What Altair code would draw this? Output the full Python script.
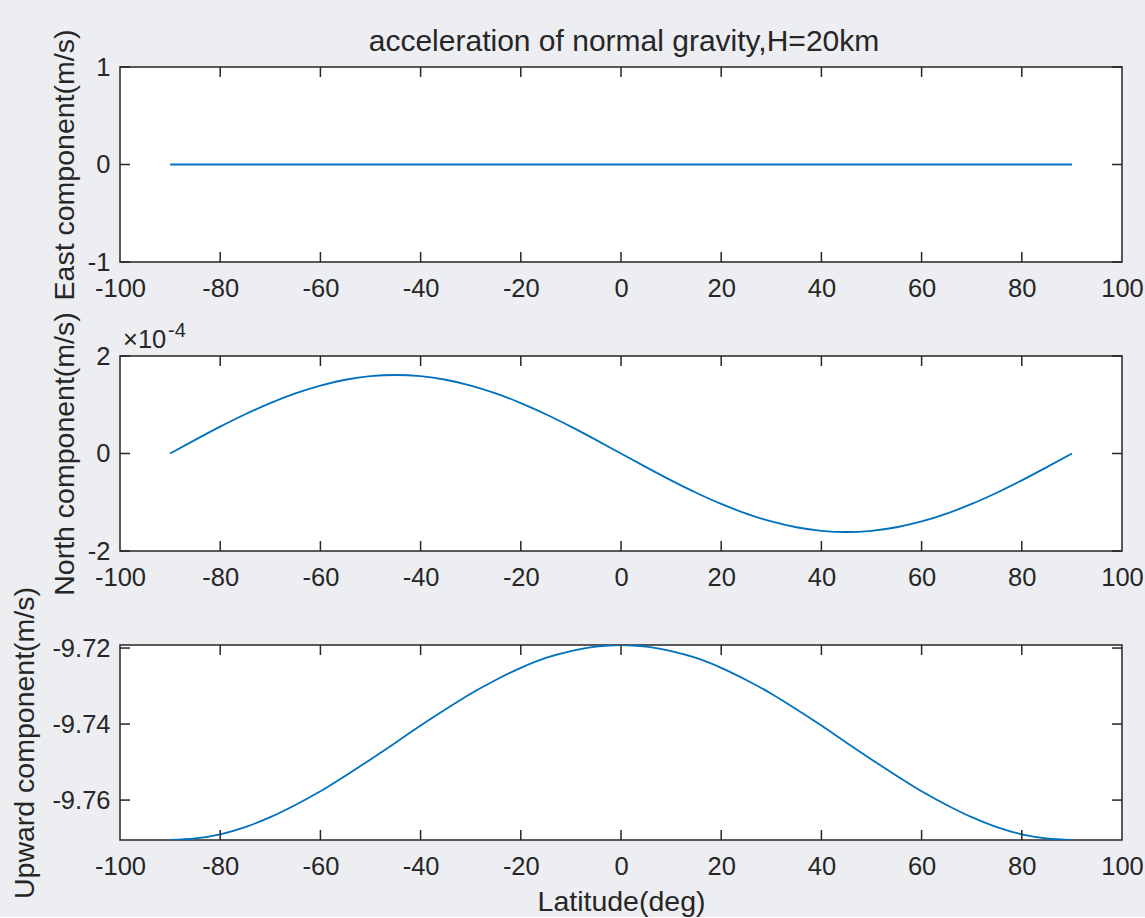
import altair as alt
import pandas as pd

# ---- data ----
lat = [-90, -85, -80, -75, -70, -65, -60, -55, -50, -45, -40, -35, -30, -25, -20, -15, -10, -5,
       0, 5, 10, 15, 20, 25, 30, 35, 40, 45, 50, 55, 60, 65, 70, 75, 80, 85, 90]

east = [0.0, 0.0, 0.0, 0.0, 0.0, 0.0, 0.0, 0.0, 0.0, 0.0, 0.0, 0.0, 0.0, 0.0, 0.0, 0.0, 0.0, 0.0,
        0.0, 0.0, 0.0, 0.0, 0.0, 0.0, 0.0, 0.0, 0.0, 0.0, 0.0, 0.0, 0.0, 0.0, 0.0, 0.0, 0.0, 0.0, 0.0]

north = [0.0, 0.2796e-4, 0.5507e-4, 0.805e-4, 1.0349e-4, 1.2333e-4, 1.3943e-4, 1.5129e-4, 1.5855e-4,
         1.61e-4, 1.5855e-4, 1.5129e-4, 1.3943e-4, 1.2333e-4, 1.0349e-4, 0.805e-4, 0.5507e-4, 0.2796e-4,
         0.0, -0.2796e-4, -0.5507e-4, -0.805e-4, -1.0349e-4, -1.2333e-4, -1.3943e-4, -1.5129e-4,
         -1.5855e-4, -1.61e-4, -1.5855e-4, -1.5129e-4, -1.3943e-4, -1.2333e-4, -1.0349e-4, -0.805e-4,
         -0.5507e-4, -0.2796e-4, 0.0]

up = [-9.7705, -9.7701, -9.7690, -9.7671, -9.7645, -9.7613, -9.7577, -9.7536, -9.7493, -9.7449,
      -9.7404, -9.7361, -9.7320, -9.7284, -9.7252, -9.7226, -9.7208, -9.7196, -9.7192,
      -9.7196, -9.7208, -9.7226, -9.7252, -9.7284, -9.7320, -9.7361, -9.7404, -9.7449, -9.7493,
      -9.7536, -9.7577, -9.7613, -9.7645, -9.7671, -9.7690, -9.7701, -9.7705]

x_ticks = [-100, -80, -60, -40, -20, 0, 20, 40, 60, 80, 100]
east_ticks = [-1, 0, 1]
north_ticks = [-2e-4, 0, 2e-4]
up_ticks = [-9.76, -9.74, -9.72]

east_domain = [-1, 1]
north_domain = [-2e-4, 2e-4]
up_domain = [-9.7705, -9.7192]

title_text = "acceleration of normal gravity,H=20km"
exp_base = "×10"
exp_power = "-4"

FONT = "Liberation Sans"
INK = "#262626"
BLUE = "#0072BD"
W, H = 1002, 195
TICK = 10


def panel(values, domain, yticks, ytitle, label_expr, title_pad, xtitle=None, title=None, exponent=False):
    xscale = alt.Scale(domain=[-100, 100], nice=False, zero=False)
    yscale = alt.Scale(domain=domain, nice=False, zero=False)
    df = pd.DataFrame({"lat": lat, "v": values})

    xaxis_kwargs = dict(values=x_ticks, labelExpr="datum.value + ''", labelPadding=14)
    if xtitle:
        xaxis_kwargs["title"] = xtitle
        xaxis_kwargs["titlePadding"] = 8
    else:
        xaxis_kwargs["title"] = None
    xaxis = alt.Axis(**xaxis_kwargs)
    yaxis = alt.Axis(values=yticks, labelExpr=label_expr, title=ytitle,
                     titlePadding=title_pad, labelPadding=10)

    def X(f):
        return alt.X(f, scale=xscale, axis=xaxis)

    def Y(f):
        return alt.Y(f, scale=yscale, axis=yaxis)

    line = alt.Chart(df).mark_line(color=BLUE, strokeWidth=1.8, clip=True,
                                   interpolate="monotone").encode(x=X("lat:Q"), y=Y("v:Q"))

    xt = pd.DataFrame({"t": x_ticks[1:-1]})
    yt = pd.DataFrame({"t": yticks})
    tick_style = dict(color=INK, strokeWidth=1.5)
    xt_top = alt.Chart(xt).mark_rule(**tick_style).encode(
        x=X("t:Q"), y=alt.value(0), y2=alt.value(TICK))
    xt_bot = alt.Chart(xt).mark_rule(**tick_style).encode(
        x=X("t:Q"), y=alt.value(H), y2=alt.value(H - TICK))
    yt_left = alt.Chart(yt).mark_rule(**tick_style).encode(
        y=Y("t:Q"), x=alt.value(0), x2=alt.value(TICK))
    yt_right = alt.Chart(yt).mark_rule(**tick_style).encode(
        y=Y("t:Q"), x=alt.value(W), x2=alt.value(W - TICK))

    layers = [line, xt_top, xt_bot, yt_left, yt_right]
    if exponent:
        exp_df = pd.DataFrame({"x": [x_ticks[0]], "y": [domain[1]]})
        t1 = alt.Chart(exp_df).mark_text(text=exp_base, align="left", baseline="alphabetic",
                                         dx=3, dy=-8, fontSize=25.5, font=FONT, color=INK).encode(
            x=X("x:Q"), y=Y("y:Q"))
        t2 = alt.Chart(exp_df).mark_text(text=exp_power, align="left", baseline="alphabetic",
                                         dx=48, dy=-19, fontSize=20, font=FONT, color=INK).encode(
            x=X("x:Q"), y=Y("y:Q"))
        layers += [t1, t2]
    props = dict(width=W, height=H)
    if title:
        props["title"] = alt.TitleParams(title, fontSize=30, fontWeight="normal", font=FONT,
                                         color=INK, offset=-28, dx=3, anchor="middle")
    return alt.layer(*layers).properties(**props)


p1 = panel(east, east_domain, east_ticks, "East component(m/s)", "datum.value + ''", 8,
           title=title_text)
p2 = panel(north, north_domain, north_ticks, "North component(m/s)",
           "round(datum.value * 10000) + ''", 8, exponent=True)
p3 = panel(up, up_domain, up_ticks, "Upward component(m/s)",
           "replace(format(datum.value, '.2f'), '\u2212', '-')", 12, xtitle="Latitude(deg)")

chart = alt.vconcat(p1, p2, p3, spacing=94, bounds="flush").properties(
    padding={"left": 10, "top": 26, "right": 0, "bottom": 0}
).configure(background="#eceef1").configure_view(
    stroke=INK, strokeWidth=1.5, fill="white"
).configure_axis(
    ticks=False, tickSize=0, domain=False, grid=False, labelFlush=False, labelOverlap=False,
    labelFont=FONT, labelFontSize=25.5, labelColor=INK,
    titleFont=FONT, titleFontSize=28.5, titleFontWeight="normal", titleColor=INK,
)

chart.save("out.html", embed_options={"renderer": "svg", "actions": False})
